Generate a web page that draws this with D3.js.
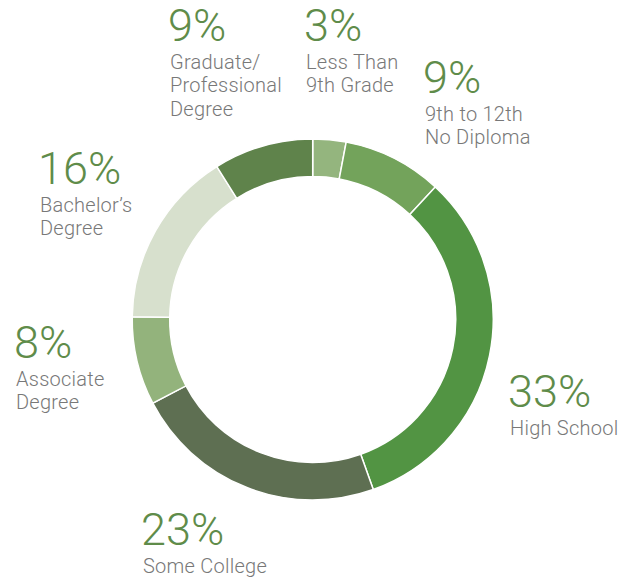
<!DOCTYPE html>
<html>
<head>
<meta charset="utf-8">
<script src="https://cdn.jsdelivr.net/npm/d3@7"></script>
<style>
  html, body { margin: 0; padding: 0; background: #fff; }
  svg { display: block; }
  .pct { font-family: Roboto, "Liberation Sans", sans-serif; font-weight: 300; font-size: 45px; fill: #5f8c4a; }
  .lbl { font-family: Roboto, "Liberation Sans", sans-serif; font-weight: 300; font-size: 20px; letter-spacing: 0.25px; fill: #787878; }
</style>
</head>
<body>
<svg id="chart" width="636" height="578"></svg>
<script>
// Educational attainment shares, clockwise from 12 o'clock
const categories = [
  "Less Than 9th Grade",
  "9th to 12th No Diploma",
  "High School",
  "Some College",
  "Associate Degree",
  "Bachelor's Degree",
  "Graduate/Professional Degree"
];
const values = [3, 9, 33, 23, 8, 16, 9];
const labelLines = [
  ["Less Than", "9th Grade"],
  ["9th to 12th", "No Diploma"],
  ["High School"],
  ["Some College"],
  ["Associate", "Degree"],
  ["Bachelor\u2019s", "Degree"],
  ["Graduate/", "Professional", "Degree"]
];
const colors = ["#94b57e", "#73a35b", "#529443", "#5e6f52", "#93b37c", "#d7e0cd", "#5f834b"];

// Where each label block sits: left edge and baseline of the percentage
const labelAnchors = [
  [306, 41], [425, 93], [510, 407], [143, 545], [16, 358], [40, 184], [170, 41]
];

const svg = d3.select("#chart");
const cx = 312.7, cy = 319.5, outerR = 180.5, innerR = 143;

const pie = d3.pie().sort(null).value(d => d);
const arc = d3.arc().innerRadius(innerR).outerRadius(outerR);

const g = svg.append("g").attr("transform", `translate(${cx},${cy})`);
g.selectAll("path")
  .data(pie(values))
  .join("path")
  .attr("d", arc)
  .attr("fill", (d, i) => colors[i])
  .attr("stroke", "#fff")
  .attr("stroke-width", 1.5);

const fmt = d3.format("d");
const labels = svg.selectAll("g.label")
  .data(categories.map((c, i) => ({ c, v: values[i], lines: labelLines[i], pos: labelAnchors[i] })))
  .join("g")
  .attr("class", "label")
  .attr("transform", d => `translate(${d.pos[0]},${d.pos[1]})`);

labels.append("text")
  .attr("class", "pct")
  .attr("x", -2)
  .text(d => fmt(d.v) + "%");

labels.each(function (d) {
  const t = d3.select(this).append("text").attr("class", "lbl").attr("y", 27.5);
  d.lines.forEach((line, k) => {
    t.append("tspan").attr("x", 0).attr("dy", k === 0 ? 0 : 23.5).text(line);
  });
});
</script>
</body>
</html>
